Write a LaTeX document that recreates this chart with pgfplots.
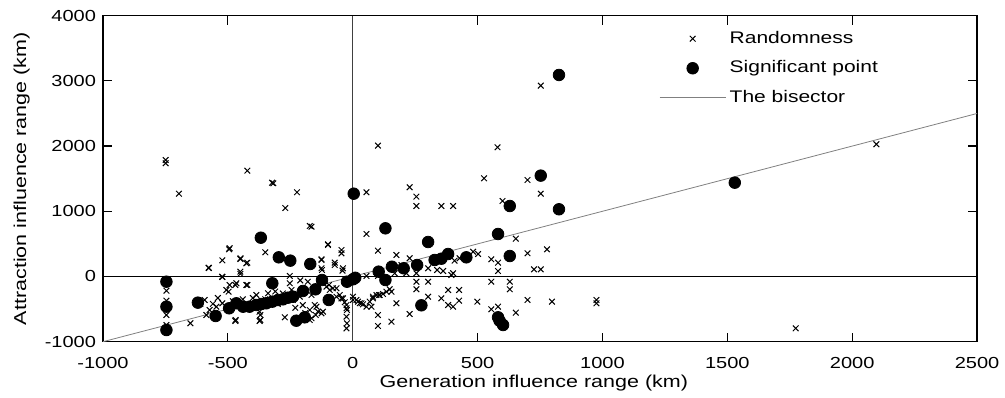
\documentclass[border=0pt]{standalone}
\usepackage{pgfplots}
\pgfplotsset{compat=1.18}
\usepackage{fontspec}
\setmainfont{Liberation Sans}[FakeStretch=1.25]

\pgfplotsset{
  legmark/.style={legend image code/.code={\draw[mark repeat=2,mark phase=2,##1] plot coordinates {(0pt,0pt)(16.5pt,0pt)(33pt,0pt)};}},
  legline/.style={legend image code/.code={\draw[##1] (0pt,0pt) -- (33pt,0pt);}},
}

\pgfplotstableread{
x y
-749 1787
-749 1737
-696 1270
-422 1623
-323 1439
-318 1430
-223 1292
-270 1050
-172 775
55 1292
101 2007
580 1982
526 1506
700 1480
753 2927
753 1270
228 1368
255 1225
255 1081
355 1081
402 1081
600 1158
2097 2028
1774 -795
55 652
101 396
-350 371
-99 494
-495 417
-576 130
-522 248
-450 268
-422 212
-450 74
-450 40
-522 -8
-252 8
-125 253
-123 100
-72 212
-72 176
-45 406
-45 355
-41 90
-746 -218
-746 -371
-746 -591
-746 -744
-650 -718
-593 -360
-573 -514
-586 -591
-546 -463
-522 -411
-506 -207
-493 -130
-466 -104
-469 -667
-422 -130
-386 -284
-370 -591
-370 -667
-339 -258
-272 -626
-252 -104
-245 -207
-212 -310
-172 -514
-145 -463
-148 -591
-172 -667
-119 -540
-105 -156
-92 -207
-65 -181
-65 -310
-45 -335
-25 -437
-23 -514
-25 -617
-23 -718
-25 -795
1 -310
1 -360
28 -411
55 -463
653 580
700 356
778 417
726 110
753 110
482 380
502 345
555 264
582 212
582 84
555 -80
629 -80
629 -196
499 -386
555 -503
582 -463
653 -555
700 -360
798 -386
976 -360
976 -411
255 49
255 -80
255 -196
302 -80
302 -310
355 -335
382 -207
382 -437
402 -463
426 -207
426 -371
395 23
402 49
338 100
302 126
362 84
408 243
428 279
175 330
228 279
195 176
168 49
215 49
101 8
55 8
148 -196
135 -233
121 -268
155 -233
105 -284
81 -335
75 -463
101 -591
101 -759
155 -693
175 -411
228 -575
15 -360
35 -411
-25 -488
-95 -130
-79 -181
-52 -284
-39 -335
-32 -396
21 -386
41 -427
68 -386
81 -310
95 -284
108 -284
-165 -284
-152 -437
-139 -540
-165 -641
-125 -565
-165 764
-99 483
-125 264
-125 126
-39 126
-577 135
-523 -3
-497 -233
-426 202
-449 279
-470 -130
-426 -130
-493 433
-470 -683
-373 -540
-373 -683
-610 -420
-560 -420
-540 -330
-480 -380
-440 -350
-400 -330
-350 -350
-300 -420
-240 -360
-200 -440
-190 -560
-230 -480
-280 -260
-310 -230
-210 -60
-180 -80
}\randomness

\pgfplotstableread{
x y
826 3091
753 1547
4 1270
629 1081
826 1031
131 739
302 529
582 652
629 314
328 253
355 273
382 345
455 294
258 176
204 126
157 150
104 74
131 -54
1 -43
-23 -80
10 -20
275 -442
582 -626
588 -678
602 -744
1530 1439
-368 595
-296 294
-250 243
-170 192
-746 -80
-746 -463
-746 -821
-620 -401
-549 -606
-495 -488
-466 -411
-439 -463
-413 -463
-386 -437
-366 -422
-346 -411
-322 -104
-322 -386
-299 -360
-279 -350
-259 -325
-239 -310
-199 -222
-149 -197
-123 -54
-96 -360
-226 -678
-192 -626
}\significant

\pgfplotstableread{
x y
-1000 -1000
2500 2500
}\bisector

\begin{document}
\begin{tikzpicture}
\begin{axis}[
  name=ax,
  scale only axis,
  width=437pt, height=163pt,
  xmin=-1000, xmax=2500, ymin=-1000, ymax=4000,
  xtick={-1000,-500,...,2500},
  ytick={-1000,0,...,4000},
  tick pos=both,
  tick align=inside,
  major tick length=4.5pt,
  axis line style={line width=0.75pt},
  every tick/.style={black, line width=0.6pt},
  scaled ticks=false,
  /pgf/number format/assume math mode=true,
  /pgf/number format/1000 sep={},
  tick label style={font=\fontsize{8}{9.6}\selectfont},
  x tick label style={yshift=-4.4pt},
  every axis x label/.style={at={(axis description cs:0.493,-0.127)}, anchor=center,
    font=\fontsize{8.6}{10}\selectfont},
  every axis y label/.style={at={(axis description cs:-0.093,0.5)}, rotate=90, anchor=center,
    font=\fontsize{8.6}{10}\selectfont},
  xlabel={Generation influence range (km)},
  ylabel={Attraction influence range (km)},
  legend style={at={(0.636,0.965)}, anchor=north west, draw=none, fill=none,
    inner sep=0pt, row sep=3.6pt, cells={anchor=west},
    nodes={inner sep=1.8pt}, font=\fontsize{8.4}{10}\selectfont},
  legend cell align=left,
]
\addplot[forget plot, black, line width=0.6pt] coordinates {(-1000,0) (2500,0)};
\addplot[forget plot, black!75, line width=0.6pt] coordinates {(0,-1000) (0,4000)};
\addplot[forget plot, gray, line width=0.4pt] table[x=x,y=y] {\bisector};
\addplot[only marks, mark=x, mark size=2pt, black, mark options={line width=0.5pt}, legmark]
  table[x=x,y=y] {\randomness};
\addlegendentry{Randomness}
\addplot[only marks, mark=*, mark size=2.9pt, black, legmark]
  table[x=x,y=y] {\significant};
\addlegendentry{Significant point}
\addlegendimage{gray, line width=0.4pt, legline}
\addlegendentry{The bisector}
\end{axis}
\pgfresetboundingbox
\path ([shift={(-51.5pt,-28.15pt)}]ax.south west) rectangle ([shift={(14pt,7.85pt)}]ax.north east);
\end{tikzpicture}
\end{document}
